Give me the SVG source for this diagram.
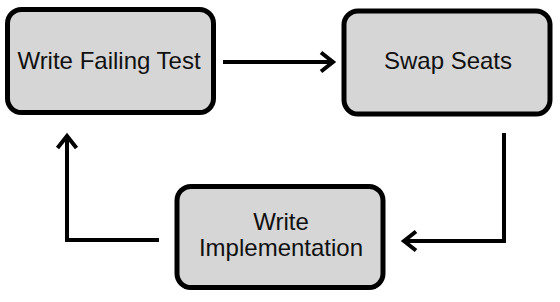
<svg xmlns="http://www.w3.org/2000/svg" width="560" height="302" viewBox="0 0 560 302">
  <style>
    .box { fill: #d6d6d6; stroke: #000; stroke-width: 5; }
    .label { font-family: "Liberation Sans", Arial, Helvetica, sans-serif; font-size: 24px; fill: #111; text-anchor: middle; }
    .conn { fill: none; stroke: #000; stroke-width: 4; stroke-linejoin: miter; }
  </style>
  <defs>
    <marker id="chev" markerUnits="userSpaceOnUse" orient="auto" refX="0" refY="0" markerWidth="30" markerHeight="30" viewBox="-20 -15 30 30" overflow="visible">
      <path d="M-12,-9.5 L0,0 L-12,9.5" fill="none" stroke="#000" stroke-width="4" stroke-linejoin="miter"/>
    </marker>
  </defs>
  <rect width="560" height="302" fill="#fff"/>
  <g id="connectors">
    <path class="conn" d="M223,62 H333" marker-end="url(#chev)"/>
    <path class="conn" d="M504,133 V241 H404" marker-end="url(#chev)"/>
    <path class="conn" d="M159,240 H67 V136" marker-end="url(#chev)"/>
  </g>
  <g id="node-write-failing-test">
    <rect class="box" x="7.5" y="9.5" width="206" height="103" rx="14"/>
    <text class="label" x="109" y="69">Write Failing Test</text>
  </g>
  <g id="node-swap-seats">
    <rect class="box" x="344" y="11" width="206" height="103" rx="14"/>
    <text class="label" x="448" y="69">Swap Seats</text>
  </g>
  <g id="node-write-implementation">
    <rect class="box" x="177" y="186.5" width="206" height="101" rx="14"/>
    <text class="label" x="281" y="230">Write</text>
    <text class="label" x="281" y="256">Implementation</text>
  </g>
</svg>
